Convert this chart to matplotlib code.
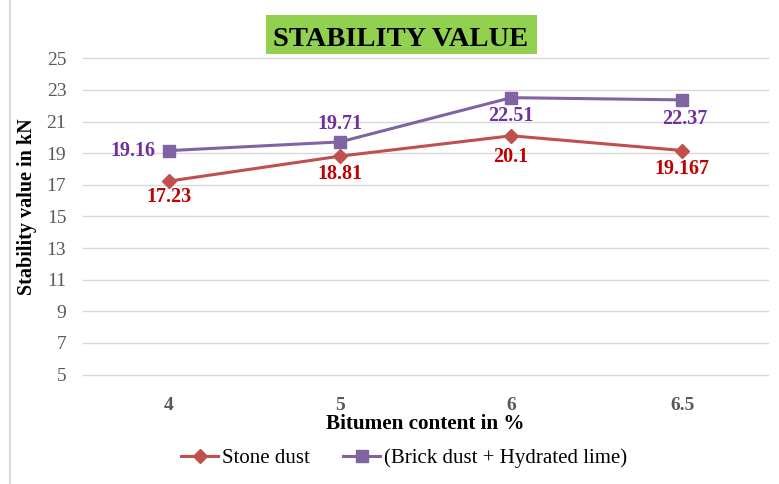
import matplotlib
matplotlib.use("Agg")
import matplotlib.pyplot as plt
from matplotlib.patches import Rectangle
from matplotlib.lines import Line2D

categories = ["4", "5", "6", "6.5"]
stone_dust = [17.23, 18.81, 20.1, 19.167]
brick_lime = [19.16, 19.71, 22.51, 22.37]
stone_labels = ["17.23", "18.81", "20.1", "19.167"]
brick_labels = ["19.16", "19.71", "22.51", "22.37"]
yticks = [5, 7, 9, 11, 13, 15, 17, 19, 21, 23, 25]

plt.rcParams['font.family'] = ['Liberation Serif', 'DejaVu Serif']

W, H = 779, 484
fig = plt.figure(figsize=(W/100, H/100), dpi=100)
ax = fig.add_axes([83/W, 1-374.5/H, (768-83)/W, (374.5-58.3)/H])

x = list(range(len(categories)))
red = "#C0504D"
purple = "#8064A2"
ax.plot(x, stone_dust, color=red, lw=2.2, marker="D", ms=7, mec=red, mfc=red,
        label="Stone dust", zorder=3)
ax.plot(x, brick_lime, color=purple, lw=2.2, marker="s", ms=8.5, mec=purple, mfc=purple,
        label="(Brick dust + Hydrated lime)", zorder=3)

lab_kw = dict(fontsize=14.5, fontweight="bold")
stone_offs = [(0, -11.5), (0, -13), (0, -15.5), (0, -13.5)]
for i, (v, t) in enumerate(zip(stone_dust, stone_labels)):
    dx, dy = stone_offs[i]
    ax.annotate(t, (i, v), xytext=(dx, dy), textcoords="offset points",
                ha="center", va="center", color="#C00000", **lab_kw)
brick_offs = [(-25.6, 0), (0, 13), (0, -13), (2, -13.5)]
for i, (v, t) in enumerate(zip(brick_lime, brick_labels)):
    dx, dy = brick_offs[i]
    ax.annotate(t, (i, v), xytext=(dx, dy), textcoords="offset points",
                ha="center", va="center", color="#7030A0", **lab_kw)

ax.set_xlim(-0.5, len(categories) - 0.5)
ax.set_ylim(5, 25)
ax.set_yticks(yticks)
ax.set_xticks(x)
ax.set_xticklabels(categories, fontsize=14, fontweight="bold", color="#595959")
ax.tick_params(axis="x", length=0, pad=16)
ax.tick_params(axis="y", length=0, pad=12, labelsize=14, labelcolor="#595959")
ax.grid(axis="y", color="#D9D9D9", lw=1)
for gl in ax.get_ygridlines():
    gl.set_clip_on(False)
ax.set_axisbelow(True)
for s in ax.spines.values():
    s.set_visible(False)

fig.text(425/W, 1-429.3/H, "Bitumen content in %", fontsize=15.2, fontweight="bold",
         ha="center", va="baseline")
fig.text(27/W, 1-206.5/H, "Stability value in kN", rotation=90, fontsize=14.5,
         fontweight="bold", ha="center", va="center")

# title with green box
fig.patches.append(Rectangle((266/W, 1-54/H), (537-266)/W, (54-15)/H,
                             transform=fig.transFigure, facecolor="#92D050",
                             edgecolor="none", zorder=0))
fig.text(400.3/W, 1-46/H, "STABILITY VALUE", fontsize=20.5, fontweight="bold",
         ha="center", va="baseline")

# chart border (left edge visible)
fig.add_artist(Line2D([10/W, 10/W], [0, 1], transform=fig.transFigure,
                      color="#D9D9D9", lw=1.5))

h, l = ax.get_legend_handles_labels()
fig.legend(h, l, loc="center", bbox_to_anchor=(404/W, 1-458/H), ncol=2,
           frameon=False, fontsize=15, handlelength=1.78, columnspacing=1.6,
           handletextpad=0.18)

fig.savefig("out.png", dpi=100)
